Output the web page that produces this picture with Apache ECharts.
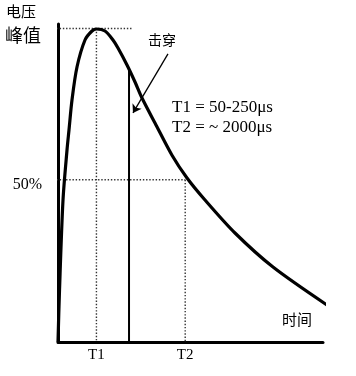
<!DOCTYPE html>
<html>
<head>
<meta charset="utf-8">
<script src="https://cdn.jsdelivr.net/npm/echarts@6/dist/echarts.min.js"></script>
<style>html,body{margin:0;padding:0;background:#fff;}#c{width:356px;height:376px;}</style>
</head>
<body>
<div id="c"></div>
<script>
// Impulse voltage waveform (schematic), time in arbitrary units, voltage in % of axis
const waveTime = [0, 0.57, 1.89, 3.40, 4.15, 5.28, 7.17, 10.19, 12.83, 14.53, 17.74, 20.75, 22.64, 26.04, 29.06, 31.70, 36.60, 43.02, 48.68, 55.47, 66.79, 81.13, 102.64];
const waveVolt = [0, 16.02, 43.76, 59.17, 65.33, 74.58, 84.75, 93.07, 95.84, 96.46, 95.84, 93.07, 90.60, 85.36, 80.12, 75.19, 67.49, 57.55, 50.54, 43.76, 33.59, 23.11, 10.79];
const peakLevel = 96.6;
const halfLevel = 50;
const t1 = 14.5;
const t2 = 48.0;
const breakdownTime = 26.8;
const breakdownVolt = 84;
const guideStart = -4.2;
const peakGuideEnd = 28.3;
const arrowFrom = [41.5, 88.8];
const arrowTo = [28.3, 70.6];
const xTickLabels = ['T1', 'T2'];
const yTickLabels = ['50%'];
const notes = ['T1 = 50-250μs', 'T2 = ~ 2000μs'];

const serif = '"Liberation Serif", "DejaVu Serif", serif';
const cjk = '"Noto Sans CJK SC", sans-serif';
const dotted = { color: '#333', width: 1.4, type: [1.4, 1.8] };

const chart = echarts.init(document.getElementById('c'));
chart.setOption({
  animation: false,
  backgroundColor: '#fff',
  grid: { left: 58, right: 33, top: 24, bottom: 34 },
  xAxis: {
    type: 'value', min: 0, max: 100,
    axisLine: { show: true, lineStyle: { color: '#000', width: 3 } },
    axisTick: { show: false },
    splitLine: { show: false },
    axisLabel: {
      customValues: [t1, t2],
      formatter: v => (Math.abs(v - t1) < 1e-6 ? xTickLabels[0] : xTickLabels[1]),
      color: '#000', fontFamily: serif, fontSize: 15, margin: 6
    }
  },
  yAxis: {
    type: 'value', min: 0, max: 98,
    axisLine: { show: true, lineStyle: { color: '#000', width: 3 } },
    axisTick: { show: false },
    splitLine: { show: false },
    axisLabel: {
      customValues: [halfLevel],
      formatter: () => yTickLabels[0],
      color: '#000', fontFamily: serif, fontSize: 16, margin: 16,
      verticalAlign: 'top', lineHeight: 10
    }
  },
  series: [
    { type: 'line', clip: false, symbol: 'none', lineStyle: dotted,
      data: [[guideStart, peakLevel], [peakGuideEnd, peakLevel]] },
    { type: 'line', clip: false, symbol: 'none', lineStyle: dotted,
      data: [[t1, peakLevel], [t1, 0]] },
    { type: 'line', clip: false, symbol: 'none', lineStyle: dotted,
      data: [[guideStart, halfLevel], [t2, halfLevel]] },
    { type: 'line', clip: false, symbol: 'none', lineStyle: dotted,
      data: [[t2, halfLevel], [t2, 0]] },
    { type: 'line', clip: false, symbol: 'none',
      lineStyle: { color: '#000', width: 2 },
      data: [[breakdownTime, breakdownVolt], [breakdownTime, 0]],
      markLine: {
        silent: true, symbol: ['none', 'arrow'], symbolSize: 8,
        label: { show: false },
        lineStyle: { color: '#000', width: 1.3, type: 'solid' },
        data: [[{ coord: arrowFrom }, { coord: arrowTo }]]
      } },
    { type: 'line', clip: false, symbol: 'none', smooth: 0.3,
      lineStyle: { color: '#000', width: 3.2 },
      data: waveTime.map((t, i) => [t, waveVolt[i]]) }
  ],
  graphic: [
    { type: 'text', left: 6, top: 4, style: { text: '电压', font: '15px ' + cjk, fill: '#000' } },
    { type: 'text', left: 5, top: 26, style: { text: '峰值', font: '18px ' + cjk, fill: '#000' } },
    { type: 'text', left: 148, top: 33, style: { text: '击穿', font: '14px ' + cjk, fill: '#000' } },
    { type: 'text', left: 282, top: 312, style: { text: '时间', font: '15px ' + cjk, fill: '#000' } },
    { type: 'text', left: 172, top: 99, style: { text: notes[0], font: '17px ' + serif, fill: '#000' } },
    { type: 'text', left: 172, top: 119, style: { text: notes[1], font: '17px ' + serif, fill: '#000' } }
  ]
});
</script>
</body>
</html>
